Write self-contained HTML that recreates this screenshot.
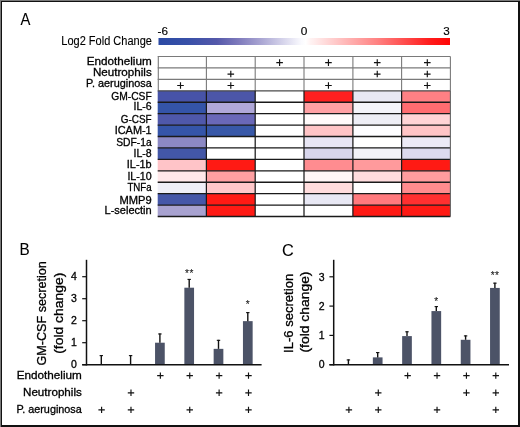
<!DOCTYPE html><html><head><meta charset="utf-8"><style>html,body{margin:0;padding:0;background:#fff;}body{width:520px;height:427px;overflow:hidden;}</style></head><body><svg width="520" height="427" viewBox="0 0 520 427" style="display:block;will-change:transform">
<rect width="520" height="427" fill="#fff"/>
<defs><linearGradient id="cb" x1="0" x2="1" y1="0" y2="0"><stop offset="0" stop-color="#2b4aa4"/><stop offset="0.1" stop-color="#3850a8"/><stop offset="0.2" stop-color="#5458aa"/><stop offset="0.274" stop-color="#7e7abc"/><stop offset="0.349" stop-color="#a8a4d2"/><stop offset="0.424" stop-color="#d4d2ea"/><stop offset="0.49" stop-color="#fafafe"/><stop offset="0.505" stop-color="#ffffff"/><stop offset="0.52" stop-color="#fff4f4"/><stop offset="0.75" stop-color="#ff8282"/><stop offset="0.93" stop-color="#ff1c1c"/><stop offset="1" stop-color="#ff0606"/></linearGradient></defs>
<rect x="158.5" y="38" width="291.5" height="7" fill="url(#cb)"/>
<rect x="157.70" y="90.79" width="48.70" height="11.43" fill="#4753a8"/>
<rect x="206.40" y="90.79" width="48.80" height="11.43" fill="#4c56a8"/>
<rect x="255.20" y="90.79" width="48.80" height="11.43" fill="#ffffff"/>
<rect x="304.00" y="90.79" width="48.90" height="11.43" fill="#ff2020"/>
<rect x="352.90" y="90.79" width="48.70" height="11.43" fill="#e8e8f4"/>
<rect x="401.60" y="90.79" width="48.80" height="11.43" fill="#ff8084"/>
<rect x="157.70" y="102.22" width="48.70" height="11.43" fill="#3454a8"/>
<rect x="206.40" y="102.22" width="48.80" height="11.43" fill="#b0a8d8"/>
<rect x="255.20" y="102.22" width="48.80" height="11.43" fill="#ffffff"/>
<rect x="304.00" y="102.22" width="48.90" height="11.43" fill="#ffa0a4"/>
<rect x="352.90" y="102.22" width="48.70" height="11.43" fill="#f4f4fa"/>
<rect x="401.60" y="102.22" width="48.80" height="11.43" fill="#ff6c70"/>
<rect x="157.70" y="113.65" width="48.70" height="11.43" fill="#4f58aa"/>
<rect x="206.40" y="113.65" width="48.80" height="11.43" fill="#6a68b8"/>
<rect x="255.20" y="113.65" width="48.80" height="11.43" fill="#ffffff"/>
<rect x="304.00" y="113.65" width="48.90" height="11.43" fill="#fffafa"/>
<rect x="352.90" y="113.65" width="48.70" height="11.43" fill="#eeeef6"/>
<rect x="401.60" y="113.65" width="48.80" height="11.43" fill="#ffd4d6"/>
<rect x="157.70" y="125.08" width="48.70" height="11.43" fill="#3555a9"/>
<rect x="206.40" y="125.08" width="48.80" height="11.43" fill="#3858a8"/>
<rect x="255.20" y="125.08" width="48.80" height="11.43" fill="#ffffff"/>
<rect x="304.00" y="125.08" width="48.90" height="11.43" fill="#ffc4c6"/>
<rect x="352.90" y="125.08" width="48.70" height="11.43" fill="#fdfdff"/>
<rect x="401.60" y="125.08" width="48.80" height="11.43" fill="#ffc4c6"/>
<rect x="157.70" y="136.51" width="48.70" height="11.43" fill="#8c89c4"/>
<rect x="206.40" y="136.51" width="48.80" height="11.43" fill="#ffffff"/>
<rect x="255.20" y="136.51" width="48.80" height="11.43" fill="#ffffff"/>
<rect x="304.00" y="136.51" width="48.90" height="11.43" fill="#e8e6f4"/>
<rect x="352.90" y="136.51" width="48.70" height="11.43" fill="#ffffff"/>
<rect x="401.60" y="136.51" width="48.80" height="11.43" fill="#eceaf6"/>
<rect x="157.70" y="147.94" width="48.70" height="11.43" fill="#4357a7"/>
<rect x="206.40" y="147.94" width="48.80" height="11.43" fill="#ffffff"/>
<rect x="255.20" y="147.94" width="48.80" height="11.43" fill="#ffffff"/>
<rect x="304.00" y="147.94" width="48.90" height="11.43" fill="#d8d6ec"/>
<rect x="352.90" y="147.94" width="48.70" height="11.43" fill="#f2f2f8"/>
<rect x="401.60" y="147.94" width="48.80" height="11.43" fill="#dcdaee"/>
<rect x="157.70" y="159.37" width="48.70" height="11.43" fill="#ffc4c8"/>
<rect x="206.40" y="159.37" width="48.80" height="11.43" fill="#ff1a14"/>
<rect x="255.20" y="159.37" width="48.80" height="11.43" fill="#ffffff"/>
<rect x="304.00" y="159.37" width="48.90" height="11.43" fill="#ff8c90"/>
<rect x="352.90" y="159.37" width="48.70" height="11.43" fill="#ff9a9c"/>
<rect x="401.60" y="159.37" width="48.80" height="11.43" fill="#ff1a14"/>
<rect x="157.70" y="170.80" width="48.70" height="11.43" fill="#ffe8ea"/>
<rect x="206.40" y="170.80" width="48.80" height="11.43" fill="#ffa0a2"/>
<rect x="255.20" y="170.80" width="48.80" height="11.43" fill="#ffffff"/>
<rect x="304.00" y="170.80" width="48.90" height="11.43" fill="#fff6f6"/>
<rect x="352.90" y="170.80" width="48.70" height="11.43" fill="#ffdcde"/>
<rect x="401.60" y="170.80" width="48.80" height="11.43" fill="#ff9c9e"/>
<rect x="157.70" y="182.23" width="48.70" height="11.43" fill="#efeff7"/>
<rect x="206.40" y="182.23" width="48.80" height="11.43" fill="#ffc8ca"/>
<rect x="255.20" y="182.23" width="48.80" height="11.43" fill="#ffffff"/>
<rect x="304.00" y="182.23" width="48.90" height="11.43" fill="#ffdcdd"/>
<rect x="352.90" y="182.23" width="48.70" height="11.43" fill="#ffffff"/>
<rect x="401.60" y="182.23" width="48.80" height="11.43" fill="#ff8c8e"/>
<rect x="157.70" y="193.66" width="48.70" height="11.43" fill="#4557a8"/>
<rect x="206.40" y="193.66" width="48.80" height="11.43" fill="#ff1a14"/>
<rect x="255.20" y="193.66" width="48.80" height="11.43" fill="#ffffff"/>
<rect x="304.00" y="193.66" width="48.90" height="11.43" fill="#e8e8f4"/>
<rect x="352.90" y="193.66" width="48.70" height="11.43" fill="#ff7a7e"/>
<rect x="401.60" y="193.66" width="48.80" height="11.43" fill="#ff3030"/>
<rect x="157.70" y="205.09" width="48.70" height="11.43" fill="#a8a2d0"/>
<rect x="206.40" y="205.09" width="48.80" height="11.43" fill="#ff1a14"/>
<rect x="255.20" y="205.09" width="48.80" height="11.43" fill="#ffffff"/>
<rect x="304.00" y="205.09" width="48.90" height="11.43" fill="#ffffff"/>
<rect x="352.90" y="205.09" width="48.70" height="11.43" fill="#ff1a14"/>
<rect x="401.60" y="205.09" width="48.80" height="11.43" fill="#ff1a14"/>
<line x1="157.7" x2="450.4" y1="56.50" y2="56.50" stroke="#7a7a7a" stroke-width="1.15"/>
<line x1="157.7" x2="450.4" y1="67.93" y2="67.93" stroke="#7a7a7a" stroke-width="1.15"/>
<line x1="157.7" x2="450.4" y1="79.36" y2="79.36" stroke="#7a7a7a" stroke-width="1.15"/>
<line x1="158.30" x2="158.30" y1="56.50" y2="90.79" stroke="#7a7a7a" stroke-width="1.1"/>
<line x1="206.40" x2="206.40" y1="56.50" y2="90.79" stroke="#7a7a7a" stroke-width="1.1"/>
<line x1="255.20" x2="255.20" y1="56.50" y2="90.79" stroke="#7a7a7a" stroke-width="1.1"/>
<line x1="304.00" x2="304.00" y1="56.50" y2="90.79" stroke="#7a7a7a" stroke-width="1.1"/>
<line x1="352.90" x2="352.90" y1="56.50" y2="90.79" stroke="#7a7a7a" stroke-width="1.1"/>
<line x1="401.60" x2="401.60" y1="56.50" y2="90.79" stroke="#7a7a7a" stroke-width="1.1"/>
<line x1="450.40" x2="450.40" y1="56.50" y2="90.79" stroke="#7a7a7a" stroke-width="1.1"/>
<line x1="157.7" x2="450.4" y1="90.79" y2="90.79" stroke="#4a4a4a" stroke-width="1.2"/>
<line x1="157.7" x2="450.4" y1="102.22" y2="102.22" stroke="#1a1a1a" stroke-width="1.35"/>
<line x1="157.7" x2="450.4" y1="113.65" y2="113.65" stroke="#1a1a1a" stroke-width="1.35"/>
<line x1="157.7" x2="450.4" y1="125.08" y2="125.08" stroke="#1a1a1a" stroke-width="1.35"/>
<line x1="157.7" x2="450.4" y1="136.51" y2="136.51" stroke="#1a1a1a" stroke-width="1.35"/>
<line x1="157.7" x2="450.4" y1="147.94" y2="147.94" stroke="#1a1a1a" stroke-width="1.35"/>
<line x1="157.7" x2="450.4" y1="159.37" y2="159.37" stroke="#1a1a1a" stroke-width="1.35"/>
<line x1="157.7" x2="450.4" y1="170.80" y2="170.80" stroke="#1a1a1a" stroke-width="1.35"/>
<line x1="157.7" x2="450.4" y1="182.23" y2="182.23" stroke="#1a1a1a" stroke-width="1.35"/>
<line x1="157.7" x2="450.4" y1="193.66" y2="193.66" stroke="#1a1a1a" stroke-width="1.35"/>
<line x1="157.7" x2="450.4" y1="205.09" y2="205.09" stroke="#1a1a1a" stroke-width="1.35"/>
<line x1="157.7" x2="450.4" y1="216.52" y2="216.52" stroke="#1a1a1a" stroke-width="1.35"/>
<line x1="206.40" x2="206.40" y1="90.79" y2="216.52" stroke="#1a1a1a" stroke-width="1.25"/>
<line x1="255.20" x2="255.20" y1="90.79" y2="216.52" stroke="#1a1a1a" stroke-width="1.25"/>
<line x1="304.00" x2="304.00" y1="90.79" y2="216.52" stroke="#1a1a1a" stroke-width="1.25"/>
<line x1="352.90" x2="352.90" y1="90.79" y2="216.52" stroke="#1a1a1a" stroke-width="1.25"/>
<line x1="401.60" x2="401.60" y1="90.79" y2="216.52" stroke="#1a1a1a" stroke-width="1.25"/>
<line x1="450.40" x2="450.40" y1="90.79" y2="216.52" stroke="#666" stroke-width="1.1"/>
<path d="M276.30 62.62H282.90M279.60 59.32V65.92" stroke="#111" stroke-width="1.15" fill="none"/>
<path d="M325.15 62.62H331.75M328.45 59.32V65.92" stroke="#111" stroke-width="1.15" fill="none"/>
<path d="M373.95 62.62H380.55M377.25 59.32V65.92" stroke="#111" stroke-width="1.15" fill="none"/>
<path d="M424.00 62.62H430.60M427.30 59.32V65.92" stroke="#111" stroke-width="1.15" fill="none"/>
<path d="M227.50 74.05H234.10M230.80 70.75V77.35" stroke="#111" stroke-width="1.15" fill="none"/>
<path d="M373.95 74.05H380.55M377.25 70.75V77.35" stroke="#111" stroke-width="1.15" fill="none"/>
<path d="M424.00 74.05H430.60M427.30 70.75V77.35" stroke="#111" stroke-width="1.15" fill="none"/>
<path d="M177.20 85.47H183.80M180.50 82.17V88.77" stroke="#111" stroke-width="1.15" fill="none"/>
<path d="M227.50 85.47H234.10M230.80 82.17V88.77" stroke="#111" stroke-width="1.15" fill="none"/>
<path d="M325.15 85.47H331.75M328.45 82.17V88.77" stroke="#111" stroke-width="1.15" fill="none"/>
<path d="M424.00 85.47H430.60M427.30 82.17V88.77" stroke="#111" stroke-width="1.15" fill="none"/>
<g font-family='"Liberation Sans", sans-serif' fill="#000" stroke="#000" stroke-width="0.3">
<text x="20.5" y="25.2" font-size="16.3" text-anchor="start" textLength="9.9" lengthAdjust="spacingAndGlyphs" stroke-width="0.08">A</text>
<text x="61.3" y="45.2" font-size="12" text-anchor="start" textLength="90.6" lengthAdjust="spacingAndGlyphs" stroke-width="0.12">Log2 Fold Change</text>
<text x="157.6" y="34.9" font-size="11.7" text-anchor="start" stroke-width="0.15">-6</text>
<text x="300.8" y="34.9" font-size="11.7" text-anchor="start" textLength="6.6" lengthAdjust="spacingAndGlyphs" stroke-width="0.15">0</text>
<text x="443.2" y="34.9" font-size="11.7" text-anchor="start" stroke-width="0.15">3</text>
<text x="86.7" y="65" font-size="11" text-anchor="start" textLength="65.0" lengthAdjust="spacingAndGlyphs" >Endothelium</text>
<text x="92.9" y="75.9" font-size="11" text-anchor="start" textLength="58.8" lengthAdjust="spacingAndGlyphs" >Neutrophils</text>
<text x="86.10000000000001" y="86.7" font-size="11" text-anchor="start" textLength="65.6" lengthAdjust="spacingAndGlyphs" >P. aeruginosa</text>
<text x="111.2" y="99.9" font-size="11" text-anchor="start" textLength="40.5" lengthAdjust="spacingAndGlyphs" >GM-CSF</text>
<text x="133.5" y="110.1" font-size="11" text-anchor="start" textLength="18.2" lengthAdjust="spacingAndGlyphs" >IL-6</text>
<text x="120.8" y="122.6" font-size="11" text-anchor="start" textLength="30.9" lengthAdjust="spacingAndGlyphs" >G-CSF</text>
<text x="114.7" y="134.1" font-size="11" text-anchor="start" textLength="37.0" lengthAdjust="spacingAndGlyphs" >ICAM-1</text>
<text x="116.2" y="145.5" font-size="11" text-anchor="start" textLength="35.5" lengthAdjust="spacingAndGlyphs" >SDF-1a</text>
<text x="133.5" y="156.5" font-size="11" text-anchor="start" textLength="18.2" lengthAdjust="spacingAndGlyphs" >IL-8</text>
<text x="126.8" y="168" font-size="11" text-anchor="start" textLength="24.9" lengthAdjust="spacingAndGlyphs" >IL-1b</text>
<text x="127.4" y="179.6" font-size="11" text-anchor="start" textLength="24.3" lengthAdjust="spacingAndGlyphs" >IL-10</text>
<text x="127.4" y="191" font-size="11" text-anchor="start" textLength="24.3" lengthAdjust="spacingAndGlyphs" >TNFa</text>
<text x="119.5" y="203.9" font-size="11" text-anchor="start" textLength="32.2" lengthAdjust="spacingAndGlyphs" >MMP9</text>
<text x="104.5" y="214.4" font-size="11" text-anchor="start" textLength="47.2" lengthAdjust="spacingAndGlyphs" >L-selectin</text>
</g>
<line x1="86.5" x2="86.5" y1="259.8" y2="365.45" stroke="#111" stroke-width="1.5"/>
<line x1="82.2" x2="86.5" y1="364.70" y2="364.70" stroke="#111" stroke-width="1.2"/>
<text x="76.9" y="368.40" font-size="10.5" text-anchor="end" font-family='"Liberation Sans", sans-serif' fill="#000" stroke="#000" stroke-width="0.3">0</text>
<line x1="82.2" x2="86.5" y1="342.70" y2="342.70" stroke="#111" stroke-width="1.2"/>
<text x="76.9" y="346.40" font-size="10.5" text-anchor="end" font-family='"Liberation Sans", sans-serif' fill="#000" stroke="#000" stroke-width="0.3">1</text>
<line x1="82.2" x2="86.5" y1="320.70" y2="320.70" stroke="#111" stroke-width="1.2"/>
<text x="76.9" y="324.40" font-size="10.5" text-anchor="end" font-family='"Liberation Sans", sans-serif' fill="#000" stroke="#000" stroke-width="0.3">2</text>
<line x1="82.2" x2="86.5" y1="298.70" y2="298.70" stroke="#111" stroke-width="1.2"/>
<text x="76.9" y="302.40" font-size="10.5" text-anchor="end" font-family='"Liberation Sans", sans-serif' fill="#000" stroke="#000" stroke-width="0.3">3</text>
<line x1="82.2" x2="86.5" y1="276.70" y2="276.70" stroke="#111" stroke-width="1.2"/>
<text x="76.9" y="280.40" font-size="10.5" text-anchor="end" font-family='"Liberation Sans", sans-serif' fill="#000" stroke="#000" stroke-width="0.3">4</text>
<line x1="101.30" x2="101.30" y1="355.11" y2="364.70" stroke="#111" stroke-width="1.4"/>
<line x1="99.60" x2="103.00" y1="355.61" y2="355.61" stroke="#111" stroke-width="1.1"/>
<line x1="130.60" x2="130.60" y1="355.11" y2="364.70" stroke="#111" stroke-width="1.4"/>
<line x1="128.90" x2="132.30" y1="355.61" y2="355.61" stroke="#111" stroke-width="1.1"/>
<rect x="155.05" y="342.70" width="9.7" height="22.00" fill="#4c5367"/>
<line x1="159.90" x2="159.90" y1="333.46" y2="342.70" stroke="#111" stroke-width="1.4"/>
<line x1="158.20" x2="161.60" y1="333.96" y2="333.96" stroke="#111" stroke-width="1.1"/>
<rect x="184.35" y="287.70" width="9.7" height="77.00" fill="#4c5367"/>
<line x1="189.20" x2="189.20" y1="278.90" y2="287.70" stroke="#111" stroke-width="1.4"/>
<line x1="187.50" x2="190.90" y1="279.40" y2="279.40" stroke="#111" stroke-width="1.1"/>
<rect x="213.65" y="348.86" width="9.7" height="15.84" fill="#4c5367"/>
<line x1="218.50" x2="218.50" y1="339.84" y2="348.86" stroke="#111" stroke-width="1.4"/>
<line x1="216.80" x2="220.20" y1="340.34" y2="340.34" stroke="#111" stroke-width="1.1"/>
<rect x="242.95" y="321.14" width="9.7" height="43.56" fill="#4c5367"/>
<line x1="247.80" x2="247.80" y1="312.12" y2="321.14" stroke="#111" stroke-width="1.4"/>
<line x1="246.10" x2="249.50" y1="312.62" y2="312.62" stroke="#111" stroke-width="1.1"/>
<line x1="82.2" x2="261.6" y1="364.7" y2="364.7" stroke="#111" stroke-width="1.6"/>
<text x="189.40" y="276.5" font-size="10" letter-spacing="0.5" text-anchor="middle" font-family='"Liberation Sans", sans-serif' fill="#111" stroke="#111" stroke-width="0.1">**</text>
<text x="248.00" y="307.5" font-size="10" letter-spacing="0.5" text-anchor="middle" font-family='"Liberation Sans", sans-serif' fill="#111" stroke="#111" stroke-width="0.1">*</text>
<line x1="333.7" x2="333.7" y1="259.8" y2="365.45" stroke="#111" stroke-width="1.5"/>
<line x1="329.4" x2="333.7" y1="364.70" y2="364.70" stroke="#111" stroke-width="1.2"/>
<text x="324.6" y="368.40" font-size="10.5" text-anchor="end" font-family='"Liberation Sans", sans-serif' fill="#000" stroke="#000" stroke-width="0.3">0</text>
<line x1="329.4" x2="333.7" y1="335.40" y2="335.40" stroke="#111" stroke-width="1.2"/>
<text x="324.6" y="339.10" font-size="10.5" text-anchor="end" font-family='"Liberation Sans", sans-serif' fill="#000" stroke="#000" stroke-width="0.3">1</text>
<line x1="329.4" x2="333.7" y1="306.10" y2="306.10" stroke="#111" stroke-width="1.2"/>
<text x="324.6" y="309.80" font-size="10.5" text-anchor="end" font-family='"Liberation Sans", sans-serif' fill="#000" stroke="#000" stroke-width="0.3">2</text>
<line x1="329.4" x2="333.7" y1="276.80" y2="276.80" stroke="#111" stroke-width="1.2"/>
<text x="324.6" y="280.50" font-size="10.5" text-anchor="end" font-family='"Liberation Sans", sans-serif' fill="#000" stroke="#000" stroke-width="0.3">3</text>
<rect x="343.55" y="364.11" width="9.7" height="0.59" fill="#4c5367"/>
<line x1="348.40" x2="348.40" y1="359.43" y2="364.11" stroke="#111" stroke-width="1.4"/>
<line x1="346.70" x2="350.10" y1="359.93" y2="359.93" stroke="#111" stroke-width="1.1"/>
<rect x="372.85" y="357.38" width="9.7" height="7.33" fill="#4c5367"/>
<line x1="377.70" x2="377.70" y1="352.10" y2="357.38" stroke="#111" stroke-width="1.4"/>
<line x1="376.00" x2="379.40" y1="352.60" y2="352.60" stroke="#111" stroke-width="1.1"/>
<rect x="402.15" y="336.10" width="9.7" height="28.60" fill="#4c5367"/>
<line x1="407.00" x2="407.00" y1="331.30" y2="336.10" stroke="#111" stroke-width="1.4"/>
<line x1="405.30" x2="408.70" y1="331.80" y2="331.80" stroke="#111" stroke-width="1.1"/>
<rect x="431.45" y="311.08" width="9.7" height="53.62" fill="#4c5367"/>
<line x1="436.30" x2="436.30" y1="306.10" y2="311.08" stroke="#111" stroke-width="1.4"/>
<line x1="434.60" x2="438.00" y1="306.60" y2="306.60" stroke="#111" stroke-width="1.1"/>
<rect x="460.75" y="339.79" width="9.7" height="24.91" fill="#4c5367"/>
<line x1="465.60" x2="465.60" y1="335.40" y2="339.79" stroke="#111" stroke-width="1.4"/>
<line x1="463.90" x2="467.30" y1="335.90" y2="335.90" stroke="#111" stroke-width="1.1"/>
<rect x="490.05" y="287.93" width="9.7" height="76.77" fill="#4c5367"/>
<line x1="494.90" x2="494.90" y1="282.66" y2="287.93" stroke="#111" stroke-width="1.4"/>
<line x1="493.20" x2="496.60" y1="283.16" y2="283.16" stroke="#111" stroke-width="1.1"/>
<line x1="329.4" x2="509.0" y1="364.7" y2="364.7" stroke="#111" stroke-width="1.6"/>
<text x="436.50" y="304.7" font-size="10" letter-spacing="0.5" text-anchor="middle" font-family='"Liberation Sans", sans-serif' fill="#111" stroke="#111" stroke-width="0.1">*</text>
<text x="495.10" y="278.7" font-size="10" letter-spacing="0.5" text-anchor="middle" font-family='"Liberation Sans", sans-serif' fill="#111" stroke="#111" stroke-width="0.1">**</text>
<g font-family='"Liberation Sans", sans-serif' fill="#000" stroke="#000" stroke-width="0.3">
<text x="16.700000000000003" y="378.9" font-size="11" text-anchor="start" textLength="65.1" lengthAdjust="spacingAndGlyphs" >Endothelium</text>
<text x="23.0" y="396" font-size="11" text-anchor="start" textLength="58.8" lengthAdjust="spacingAndGlyphs" >Neutrophils</text>
<text x="16.400000000000002" y="412.5" font-size="11" text-anchor="start" textLength="65.4" lengthAdjust="spacingAndGlyphs" >P. aeruginosa</text>
</g>
<path d="M157.16 375.60H163.56M160.36 372.40V378.80" stroke="#111" stroke-width="1.15" fill="none"/>
<path d="M404.46 375.60H410.86M407.66 372.40V378.80" stroke="#111" stroke-width="1.15" fill="none"/>
<path d="M186.54 375.60H192.94M189.74 372.40V378.80" stroke="#111" stroke-width="1.15" fill="none"/>
<path d="M433.84 375.60H440.24M437.04 372.40V378.80" stroke="#111" stroke-width="1.15" fill="none"/>
<path d="M215.92 375.60H222.32M219.12 372.40V378.80" stroke="#111" stroke-width="1.15" fill="none"/>
<path d="M463.22 375.60H469.62M466.42 372.40V378.80" stroke="#111" stroke-width="1.15" fill="none"/>
<path d="M245.30 375.60H251.70M248.50 372.40V378.80" stroke="#111" stroke-width="1.15" fill="none"/>
<path d="M492.60 375.60H499.00M495.80 372.40V378.80" stroke="#111" stroke-width="1.15" fill="none"/>
<path d="M127.78 392.80H134.18M130.98 389.60V396.00" stroke="#111" stroke-width="1.15" fill="none"/>
<path d="M375.08 392.80H381.48M378.28 389.60V396.00" stroke="#111" stroke-width="1.15" fill="none"/>
<path d="M215.92 392.80H222.32M219.12 389.60V396.00" stroke="#111" stroke-width="1.15" fill="none"/>
<path d="M463.22 392.80H469.62M466.42 389.60V396.00" stroke="#111" stroke-width="1.15" fill="none"/>
<path d="M245.30 392.80H251.70M248.50 389.60V396.00" stroke="#111" stroke-width="1.15" fill="none"/>
<path d="M492.60 392.80H499.00M495.80 389.60V396.00" stroke="#111" stroke-width="1.15" fill="none"/>
<path d="M98.40 409.90H104.80M101.60 406.70V413.10" stroke="#111" stroke-width="1.15" fill="none"/>
<path d="M345.70 409.90H352.10M348.90 406.70V413.10" stroke="#111" stroke-width="1.15" fill="none"/>
<path d="M127.78 409.90H134.18M130.98 406.70V413.10" stroke="#111" stroke-width="1.15" fill="none"/>
<path d="M375.08 409.90H381.48M378.28 406.70V413.10" stroke="#111" stroke-width="1.15" fill="none"/>
<path d="M186.54 409.90H192.94M189.74 406.70V413.10" stroke="#111" stroke-width="1.15" fill="none"/>
<path d="M433.84 409.90H440.24M437.04 406.70V413.10" stroke="#111" stroke-width="1.15" fill="none"/>
<path d="M245.30 409.90H251.70M248.50 406.70V413.10" stroke="#111" stroke-width="1.15" fill="none"/>
<path d="M492.60 409.90H499.00M495.80 406.70V413.10" stroke="#111" stroke-width="1.15" fill="none"/>
<g font-family='"Liberation Sans", sans-serif' fill="#000" stroke="#000" stroke-width="0.3">
<text x="19.6" y="255.4" font-size="16.3" text-anchor="start" textLength="10.2" lengthAdjust="spacingAndGlyphs" stroke-width="0.08">B</text>
<text x="282.0" y="255.5" font-size="16.3" text-anchor="start" stroke-width="0.08">C</text>
<text transform="translate(45.8,365.6) rotate(-90)" font-size="12.6" textLength="104.4" lengthAdjust="spacingAndGlyphs">GM-CSF secretion</text>
<text transform="translate(62.5,353.8) rotate(-90)" font-size="12.6" textLength="81.2" lengthAdjust="spacingAndGlyphs">(fold change)</text>
<text transform="translate(292.9,353.0) rotate(-90)" font-size="12.6" textLength="79.2" lengthAdjust="spacingAndGlyphs">IL-6 secretion</text>
<text transform="translate(309.3,352.5) rotate(-90)" font-size="12.8" textLength="81.0" lengthAdjust="spacingAndGlyphs">(fold change)</text>
</g>
<rect x="0" y="0" width="520" height="1" fill="#7a7a7a"/>
<rect x="0" y="0" width="1" height="427" fill="#7a7a7a"/>
<rect x="1" y="1" width="519" height="1" fill="#111"/>
<rect x="1" y="1" width="1" height="426" fill="#111"/>
<rect x="518" y="1" width="2" height="426" fill="#111"/>
<rect x="1" y="425" width="519" height="2" fill="#111"/>
</svg></body></html>
